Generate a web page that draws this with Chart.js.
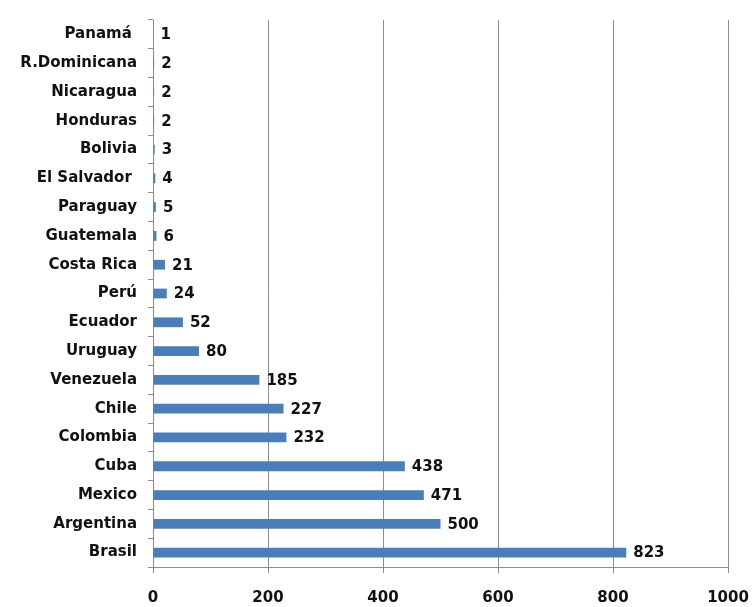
<!DOCTYPE html>
<html>
<head>
<meta charset="utf-8">
<script src="https://cdn.jsdelivr.net/npm/chart.js@4"></script>
<style>
  html, body { margin: 0; padding: 0; background: #ffffff; }
  #wrap { width: 752px; height: 607px; }
</style>
</head>
<body>
<div id="wrap"><canvas id="barChart" width="752" height="607"></canvas></div>
<script>
// countries, top to bottom as in the picture
const countries = ['Panamá ', 'R.Dominicana', 'Nicaragua', 'Honduras', 'Bolivia', 'El Salvador ',
    'Paraguay', 'Guatemala', 'Costa Rica', 'Perú', 'Ecuador', 'Uruguay', 'Venezuela',
    'Chile', 'Colombia', 'Cuba', 'Mexico', 'Argentina', 'Brasil'];
const counts = [1, 2, 2, 2, 3, 4, 5, 6, 21, 24, 52, 80, 185, 227, 232, 438, 471, 500, 823];
const xTicks = [0, 200, 400, 600, 800, 1000];

const labelFont = { family: 'DejaVu Sans', size: 15, weight: 'bold' };
const gridGrey = '#8c8c8c';

// draws the value next to the end of every bar
const valueLabels = {
    id: 'valueLabels',
    afterDatasetsDraw(chart) {
        const ctx = chart.ctx;
        const meta = chart.getDatasetMeta(0);
        ctx.save();
        ctx.font = 'bold 15px "DejaVu Sans"';
        ctx.fillStyle = '#111111';
        ctx.textAlign = 'left';
        ctx.textBaseline = 'middle';
        meta.data.forEach((bar, i) => {
            ctx.fillText(String(counts[i]), bar.x + 7, bar.y + 1);
        });
        ctx.restore();
    }
};

const ctx = document.getElementById('barChart').getContext('2d');
new Chart(ctx, {
    type: 'bar',
    data: {
        labels: countries,
        datasets: [{
            data: counts,
            backgroundColor: '#4a7ebb',
            borderWidth: 0,
            categoryPercentage: 1,
            barPercentage: 0.34
        }]
    },
    options: {
        indexAxis: 'y',
        responsive: false,
        animation: false,
        layout: { padding: { top: 18, right: 24, left: 0, bottom: 0 } },
        plugins: {
            legend: { display: false },
            tooltip: { enabled: false }
        },
        scales: {
            x: {
                min: 0,
                max: 1000,
                afterBuildTicks: (scale) => { scale.ticks = xTicks.map(v => ({ value: v })); },
                afterFit: (scale) => {
                    scale.height = 40;
                    scale.paddingRight = 0;
                    scale.paddingLeft = 0;
                },
                grid: { color: gridGrey, tickLength: 6, lineWidth: 1 },
                border: { color: gridGrey },
                ticks: {
                    color: '#111111', font: labelFont, padding: 16, maxRotation: 0,
                    callback: (v) => String(v)
                }
            },
            y: {
                afterFit: (scale) => { scale.width = 153; },
                grid: { drawOnChartArea: false, color: gridGrey, tickLength: 5, offset: true },
                border: { color: gridGrey },
                ticks: { color: '#111111', font: labelFont, padding: 11, autoSkip: false }
            }
        }
    },
    plugins: [valueLabels]
});
</script>
</body>
</html>
